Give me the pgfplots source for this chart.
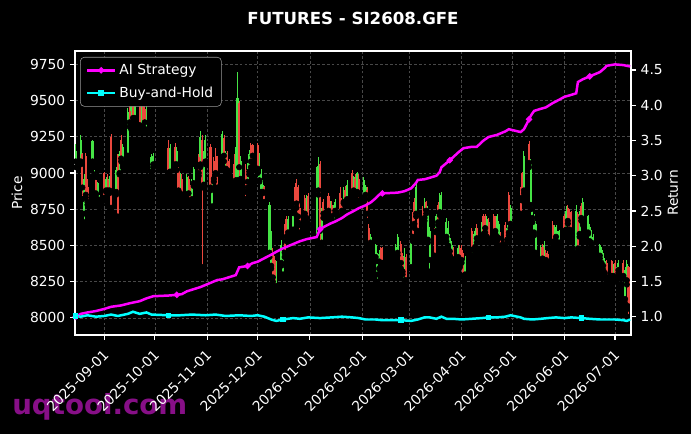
\documentclass[border=0pt]{standalone}
\usepackage{fontspec}
\setmainfont{DejaVu Sans}
\usepackage{pgfplots}
\usepackage{pgfplotstable}
\pgfplotsset{compat=1.18}

\definecolor{cgreen}{RGB}{70,228,70}
\definecolor{cred}{RGB}{235,72,62}
\definecolor{gridc}{RGB}{72,72,72}
\definecolor{wmark}{RGB}{135,15,135}
\definecolor{aimag}{RGB}{255,0,255}
\definecolor{bhcyan}{RGB}{0,255,255}

% day = days since 2025-09-01, o h l c
\pgfplotstableread{
d o h l c
-17 9080 9200 9040 9150
-14 9080 9265 9060 9230
-13 9130 9140 8820 8900
-12 8720 8990 8660 8960
-11 9120 9140 8830 8850
-10 8900 8960 8780 8800
-7 9080 9230 9060 9220
-6 8990 9020 8970 9010
-5 8950 8960 8850 8860
-4 8820 8940 8800 8930
-3 8780 8850 8760 8830
0 9000 9010 8810 8830
1 8880 8970 8870 8960
2 8950 8990 8870 8880
3 8880 8980 8860 8960
4 9250 9270 8730 8760
7 8870 9040 8850 9020
8 9120 9130 8660 8700
9 9000 9150 8990 9130
10 9230 9260 9080 9100
11 9060 9200 9040 9180
14 9120 9450 9100 9420
15 9430 9510 9320 9350
16 9330 9500 9300 9480
17 9470 9520 9350 9380
18 9380 9490 9340 9460
21 9460 9500 9300 9330
22 9320 9470 9300 9420
23 9490 9500 9300 9320
24 9440 9480 9290 9350
25 9300 9460 9280 9400
28 9010 9130 8990 9110
29 9060 9140 9040 9120
38 9170 9230 8990 9000
39 9010 9200 8980 9170
42 9180 9210 9040 9060
43 9060 9180 9020 9150
44 9020 9040 8830 8880
45 8860 9000 8840 8980
46 8960 8990 8820 8850
49 8850 8990 8820 8970
50 8960 8980 8810 8860
51 8880 8920 8780 8810
52 8820 8960 8800 8940
53 8930 9040 8910 9030
56 9110 9130 8980 9000
57 9060 9290 9040 9250
58 9230 9260 8350 8900
59 8920 9150 8900 9100
60 9080 9260 9060 9230
63 9180 9200 8880 8900
64 8770 8960 8760 8950
65 9080 9110 8940 8960
66 9120 9170 8990 9000
67 9080 9120 8870 8900
70 9110 9290 9100 9270
71 9240 9260 9080 9120
72 9030 9150 9010 9140
73 9120 9150 9000 9020
74 9080 9100 8980 9000
77 9060 9130 8900 8930
78 8950 9180 8930 9150
79 8950 9700 8920 9520
80 9480 9500 8940 9040
81 8960 9120 8940 9080
84 9020 9060 8820 8870
85 8940 9070 8900 9040
86 9010 9160 8990 9130
87 9190 9210 9040 9080
88 9190 9200 9080 9120
91 9190 9210 9000 9030
92 8950 9140 8940 9100
93 8870 9030 8860 8990
94 8870 8950 8860 8920
95 8900 8910 8780 8800
98 8450 8800 8420 8780
99 8360 8600 8340 8560
100 8440 8480 8250 8280
101 8400 8430 8180 8210
102 8220 8390 8200 8350
105 8380 8540 8360 8500
106 8300 8440 8290 8420
107 8620 8650 8420 8450
108 8680 8700 8530 8560
109 8590 8700 8570 8680
112 8610 8740 8580 8700
113 8880 8900 8720 8750
114 8930 8960 8760 8790
115 8900 8920 8660 8700
116 8760 8790 8590 8640
119 8830 8850 8690 8720
120 8690 8850 8660 8830
121 8840 8860 8620 8650
126 8560 9040 8520 8980
127 8880 9110 8850 9050
128 9060 9080 8500 8600
129 8520 8760 8500 8720
130 8800 8820 8690 8720
133 8840 8860 8720 8740
134 8680 8810 8660 8790
135 8780 8810 8680 8700
136 8640 8780 8620 8750
137 8740 8820 8720 8800
140 8860 8900 8660 8700
141 8810 8830 8720 8740
142 8800 8900 8790 8860
143 8880 8910 8770 8790
144 8820 8950 8800 8920
147 9000 9020 8830 8850
148 8880 8980 8860 8970
149 8960 8990 8800 8820
150 8870 9010 8850 9000
151 8960 8990 8810 8860
154 8830 8970 8800 8950
155 8850 8920 8820 8900
156 8880 8900 8670 8720
157 8620 8650 8490 8500
158 8520 8580 8500 8560
161 8420 8510 8390 8500
162 8300 8450 8250 8430
163 8390 8470 8340 8440
164 8480 8490 8330 8360
165 8460 8490 8360 8380
173 8420 8510 8400 8490
174 8450 8580 8430 8560
176 8510 8530 8340 8380
177 8420 8450 8300 8320
178 8260 8480 8230 8430
179 8420 8440 8210 8260
182 8350 8570 8340 8530
183 8700 8730 8530 8560
184 8800 8830 8620 8650
185 8720 8950 8700 8900
186 8720 8740 8570 8600
189 8740 8770 8600 8640
190 8690 8830 8670 8800
191 8800 8810 8720 8740
192 8540 8770 8520 8740
193 8400 8630 8320 8600
196 8600 8620 8400 8430
197 8600 8720 8590 8700
198 8780 8800 8640 8660
199 8730 8860 8710 8840
200 8720 8870 8690 8850
203 8560 8690 8530 8660
204 8500 8670 8480 8620
205 8460 8580 8430 8550
206 8410 8530 8390 8500
207 8470 8490 8370 8390
210 8420 8500 8390 8480
211 8480 8500 8350 8370
212 8470 8500 8380 8400
213 8420 8450 8250 8290
214 8300 8430 8280 8400
218 8600 8620 8430 8470
219 8400 8580 8370 8560
220 8490 8620 8460 8600
221 8620 8650 8520 8550
224 8530 8660 8520 8640
225 8700 8720 8560 8580
226 8700 8720 8590 8620
227 8560 8700 8530 8680
228 8660 8690 8520 8540
231 8700 8720 8570 8590
232 8670 8700 8580 8600
233 8560 8720 8530 8700
234 8550 8670 8500 8650
235 8570 8590 8480 8500
238 8640 8660 8480 8500
239 8540 8640 8520 8620
240 8850 8870 8570 8590
241 8650 8780 8620 8760
247 8880 8900 8700 8720
248 9000 9010 8810 8830
249 8880 9150 8860 9120
252 9200 9220 9040 9070
253 8780 9100 8750 9060
254 8690 8780 8660 8760
255 8590 8720 8570 8700
256 8450 8670 8430 8650
259 8400 8500 8370 8480
260 8490 8510 8380 8410
261 8380 8530 8370 8500
262 8450 8470 8380 8400
263 8440 8460 8370 8390
266 8640 8670 8480 8510
267 8530 8640 8510 8610
268 8560 8640 8530 8630
269 8500 8600 8480 8580
270 8520 8610 8500 8600
273 8700 8720 8570 8600
274 8610 8770 8600 8740
275 8760 8780 8650 8670
276 8730 8750 8590 8610
277 8720 8740 8580 8600
280 8450 8780 8430 8740
281 8720 8730 8450 8480
282 8580 8740 8560 8730
283 8770 8790 8670 8690
284 8660 8830 8640 8800
287 8590 8710 8580 8700
288 8530 8650 8520 8630
289 8520 8610 8500 8600
290 8480 8580 8470 8560
294 8430 8510 8410 8500
295 8380 8490 8360 8470
296 8360 8450 8330 8430
297 8310 8410 8290 8390
298 8380 8400 8250 8280
301 8390 8400 8250 8290
302 8290 8370 8270 8350
303 8380 8400 8250 8270
304 8280 8350 8250 8330
305 8330 8400 8310 8380
308 8380 8400 8270 8290
309 8130 8350 8100 8330
310 8260 8400 8230 8370
311 8350 8360 8000 8080
312 8170 8190 8010 8060
}\candles

\pgfplotsset{
  base/.style={
    scale only axis, width=5.56in, height=2.84in,
    xmin=-17.4, xmax=312.5,
    axis line style={white, line width=0.8pt},
    tick style={white, line width=0.8pt},
    major tick length=3.5pt,
    tick align=outside,
    tick label style={text=white, font=\fontsize{10}{12}\selectfont},
    /pgf/number format/assume math mode=true,
    /pgf/number format/1000 sep={},
  },
}

\begin{document}
\begin{tikzpicture}
\fill[black, use as bounding box] (-0.75in,-0.99in) rectangle (6.16in,3.35in);
\node[anchor=base west, text=wmark, font=\fontsize{20}{24}\selectfont\bfseries, inner sep=0pt] at (-0.63in,-0.80in) {uqtool.com};

\begin{axis}[base,
  ymin=7882, ymax=9842,
  tick pos=left,
  ytick={8000,8250,8500,8750,9000,9250,9500,9750},
  scaled y ticks=false,
  xtick={0,30,61,91,122,153,181,212,242,273,303},
  xticklabels={2025-09-01,2025-10-01,2025-11-01,2025-12-01,2026-01-01,2026-02-01,2026-03-01,2026-04-01,2026-05-01,2026-06-01,2026-07-01},
  xticklabel style={rotate=45, anchor=north east, xshift=-2pt},
  grid=major,
  major grid style={gridc, line width=0.5pt, dash pattern=on 2pt off 1.5pt},
]
  % wicks
  \addplot[only marks, mark=none, forget plot,
    error bars/.cd, y dir=plus, y explicit, error mark=none,
    error bar style={draw=cgreen, line width=0.7pt}]
    table[x=d, y expr={\thisrow{c}>=\thisrow{o} ? \thisrow{l} : nan},
          y error plus expr={\thisrow{h}-\thisrow{l}}] {\candles};
  \addplot[only marks, mark=none, forget plot,
    error bars/.cd, y dir=plus, y explicit, error mark=none,
    error bar style={draw=cred, line width=0.7pt}]
    table[x=d, y expr={\thisrow{c}<\thisrow{o} ? \thisrow{l} : nan},
          y error plus expr={\thisrow{h}-\thisrow{l}}] {\candles};
  % bodies
  \addplot[only marks, mark=none, forget plot,
    error bars/.cd, y dir=plus, y explicit, error mark=none,
    error bar style={draw=cgreen, line width=1.5pt}]
    table[x=d, y expr={\thisrow{c}>=\thisrow{o} ? \thisrow{o} : nan},
          y error plus expr={\thisrow{c}-\thisrow{o}}] {\candles};
  \addplot[only marks, mark=none, forget plot,
    error bars/.cd, y dir=plus, y explicit, error mark=none,
    error bar style={draw=cred, line width=1.5pt}]
    table[x=d, y expr={\thisrow{c}<\thisrow{o} ? \thisrow{c} : nan},
          y error plus expr={\thisrow{o}-\thisrow{c}}] {\candles};
\end{axis}

\begin{axis}[base,
  ymin=0.74, ymax=4.77,
  axis x line=none,
  axis y line*=right,
  y axis line style={-},
  ytick={1,1.5,2,2.5,3,3.5,4,4.5},
  yticklabel style={/pgf/number format/.cd, fixed, fixed zerofill, precision=1},
  legend style={at={(0.009,0.979)}, anchor=north west, fill=black, draw=gray!80,
    text=white, rounded corners=3pt, font=\fontsize{10}{12}\selectfont,
    inner xsep=4pt, inner ysep=3pt, row sep=3.5pt},
  legend image code/.code={%
    \draw[mark repeat=2, mark phase=2] plot coordinates {(0cm,0cm) (0.36cm,0cm) (0.72cm,0cm)};},
  legend cell align=left,
]
  \addplot[aimag, line width=1.8pt, mark=*, mark size=1.2pt, mark repeat=12] coordinates {
    (-17,1.00) (-14,1.04) (-10,1.06) (-5,1.08) (0,1.11) (4,1.14) (10,1.16) (15,1.19)
    (21,1.22) (25,1.26) (29,1.29) (38,1.30) (43,1.31) (46,1.32) (49,1.36) (53,1.39)
    (57,1.42) (60,1.45) (63,1.48) (67,1.52) (70,1.53) (74,1.56) (78,1.59) (80,1.70)
    (85,1.72) (88,1.76) (91,1.78) (95,1.83) (99,1.88) (102,1.92) (106,1.97) (109,2.00)
    (113,2.04) (116,2.07) (120,2.10) (126,2.13) (128,2.24) (130,2.27) (134,2.32) (137,2.35)
    (141,2.40) (144,2.45) (148,2.50) (151,2.54) (155,2.58) (158,2.62) (161,2.68) (163,2.73)
    (165,2.75) (174,2.76) (178,2.78) (182,2.82) (185,2.90) (186,2.94) (190,2.95) (193,2.97)
    (197,3.00) (199,3.05) (200,3.12) (203,3.18) (205,3.22) (210,3.33) (213,3.39) (218,3.41)
    (221,3.41) (225,3.50) (228,3.55) (233,3.58) (238,3.63) (240,3.66) (247,3.62) (249,3.66)
    (252,3.80) (253,3.85) (255,3.92) (259,3.95) (262,3.97) (266,4.03) (270,4.08) (273,4.12)
    (276,4.14) (280,4.17) (281,4.33) (284,4.37) (288,4.41) (294,4.47) (297,4.53) (298,4.56)
    (303,4.58) (308,4.57) (312,4.55)
  };
  \addlegendentry{AI Strategy}
  \addplot[bhcyan, line width=1.8pt, mark=square*, mark size=1.1pt, mark repeat=12] coordinates {
    (-17,1.01) (-14,1.00) (-10,1.02) (-5,1.00) (0,1.01) (4,1.03) (8,1.01) (14,1.04)
    (17,1.07) (21,1.04) (25,1.06) (28,1.03) (38,1.02) (45,1.02) (52,1.03) (60,1.02)
    (66,1.03) (72,1.01) (80,1.02) (87,1.01) (91,1.02) (95,1.00) (99,0.96) (102,0.94)
    (106,0.96) (112,0.98) (116,0.97) (121,0.99) (128,0.98) (135,0.99) (141,1.00) (147,0.99)
    (151,0.98) (155,0.96) (161,0.96) (165,0.95) (176,0.95) (182,0.94) (186,0.96) (190,0.99)
    (193,0.99) (197,0.97) (200,1.00) (203,0.97) (207,0.97) (212,0.96) (218,0.97) (224,0.98)
    (228,0.99) (233,0.99) (238,1.00) (241,1.02) (247,0.99) (249,0.97) (254,0.96) (259,0.97)
    (263,0.98) (268,0.99) (273,0.98) (277,0.99) (283,0.98) (288,0.97) (294,0.96) (298,0.96)
    (303,0.96) (308,0.95) (310,0.94) (312,0.96)
  };
  \addlegendentry{Buy-and-Hold}
\end{axis}

\node[anchor=base, text=white, font=\fontsize{12}{14}\selectfont\bfseries] at (2.78in,3.10in) {FUTURES - SI2608.GFE};
\node[rotate=90, text=white, font=\fontsize{10}{12}\selectfont] at (-0.58in,1.42in) {Price};
\node[rotate=90, text=white, font=\fontsize{10}{12}\selectfont] at (5.98in,1.42in) {Return};
\end{tikzpicture}
\end{document}
